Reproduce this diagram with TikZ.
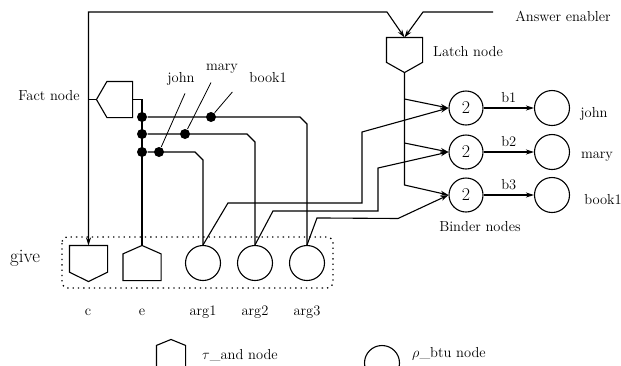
\documentclass[tikz,border=0pt]{standalone}
\usepackage{tikz}
\usetikzlibrary{arrows.meta,calc}

% house shapes drawn on an empty node: name, share of the side
\newcommand{\pentdown}[2]{\draw (#1.north west) -- (#1.north east) -- ($(#1.south east)!#2!(#1.north east)$) -- (#1.south) -- ($(#1.south west)!#2!(#1.north west)$) -- cycle;}
\newcommand{\pentup}[2]{\draw (#1.south west) -- (#1.south east) -- ($(#1.north east)!#2!(#1.south east)$) -- (#1.north) -- ($(#1.north west)!#2!(#1.south west)$) -- cycle;}
\newcommand{\pentleft}[2]{\draw (#1.north east) -- (#1.south east) -- ($(#1.south west)!#2!(#1.south east)$) -- (#1.west) -- ($(#1.north west)!#2!(#1.north east)$) -- cycle;}

\begin{document}
\begin{tikzpicture}[x=1pt,y=-1pt,line width=1.1pt,
    every node/.style={font=\fontsize{14.5}{17}\selectfont},
    arr/.style={-{Stealth[length=8pt,width=5pt]}},
    andnode/.style={inner sep=0pt,minimum width=#1},
    btunode/.style={circle,draw,inner sep=0pt,minimum size=35pt},
    bindnode/.style={circle,draw,inner sep=0pt,minimum size=34pt,font=\fontsize{18}{20}\selectfont},
    dot/.style={circle,fill=black,inner sep=0pt,minimum size=10pt}]

\useasboundingbox (0,0) rectangle (621,365);
\clip (0,0) rectangle (621,365);

% give: tau_and nodes c, e and rho_btu nodes arg1..arg3
\node[andnode=37pt,minimum height=35pt] (c) at (88.5,263.5) {};
\pentdown{c}{0.26}
\node[andnode=37pt,minimum height=34pt] (e) at (142,263) {};
\pentup{e}{0.24}
\node[btunode] (a1) at (203,263) {};
\node[btunode] (a2) at (255,263) {};
\node[btunode] (a3) at (307,263) {};
\draw[line width=1.3pt,dash pattern=on 1.3pt off 4pt,rounded corners=6pt] (62,237) rectangle (333,288);
\node[font=\fontsize{19}{22}\selectfont] (give) at (25,258) {give};

\node (lc) at (88,312) {c};
\node (le) at (142,312) {e};
\node (la1) at (203,312) {arg1};
\node (la2) at (255,312) {arg2};
\node (la3) at (307,312) {arg3};

% Fact node
\node[andnode=35pt,minimum height=35pt] (fact) at (114.5,99.5) {};
\pentleft{fact}{0.29}
\node (factlab) at (49,96) {Fact node};
\coordinate (fin) at (88,99.5);
\draw (fin) -- (fact.west);
\draw (fact.east) -| (e.north);

% Latch node
\node[andnode=35pt,minimum height=34pt] (latch) at (404.5,55) {};
\pentdown{latch}{0.29}
\node (latchlab) at (468,52) {Latch node};
\node (ans) at (563,16) {Answer enabler};
\coordinate (en) at (493,12);
\draw[{Stealth[length=8pt,width=5pt]}-{Stealth[length=8pt,width=5pt]}] (c.north) |- (387,12) -- (latch.north);
\draw[arr] (en) -- (423,12) -- (latch.north);

% Binder nodes
\node[bindnode] (b1) at (466,108) {2};
\node[bindnode] (b2) at (466,152) {2};
\node[bindnode] (b3) at (466,195) {2};
\node[btunode] (r1) at (552,108) {};
\node[btunode] (r2) at (552,152) {};
\node[btunode] (r3) at (552,195) {};
\node (rj) at (594,114) {john};
\node (rm) at (597,157) {mary};
\node (rb) at (603,200) {book1};
\draw[arr] (b1) -- node[above=1pt] {b1} (r1);
\draw[arr] (b2) -- node[above=1pt] {b2} (r2);
\draw[arr] (b3) -- node[above=1pt] {b3} (r3);
\node (bindlab) at (480,227) {Binder nodes};

\coordinate (s1) at (404.5,99);
\coordinate (s2) at (404.5,143);
\draw[arr] (latch.south) -- (404.5,185) -- (b3.west);
\draw[arr] (s1) -- (b1.west);
\draw[arr] (s2) -- (b2.west);

% arguments to binders
\draw[arr] (a1.north) -- ++(25,-42) -| (362,132) -- (b1.west);
\draw[arr] (a2.north) -- ++(18,-34) -| (378,168) -- (b2.west);
\draw[arr] (a3.north) -- ++(10,-27) -- (398,218.5) -- (b3.west);

% dots
\node[dot] (d1) at (142,117) {};
\node[dot] (d2) at (142,134) {};
\node[dot] (d3) at (142,152) {};
\node[dot] (kb) at (211,117) {};
\node[dot] (km) at (185,134) {};
\node[dot] (kj) at (159,152) {};
\draw (d1) -- (300,117) -- (307,124) -- (a3.north);
\draw (d2) -- (247,134) -- (255,142) -- (a2.north);
\draw (d3) -- (195,152) -- (203,160) -- (a1.north);

\node (lj) at (181,79) {john};
\node (lm) at (222,69) {mary};
\node (lb) at (268,78) {book1};
\draw[line width=0.8pt] (kj) -- ($(lj.south)+(4,4)$);
\draw[line width=0.8pt] (km) -- ($(lm.south)+(-11,5)$);
\draw[line width=0.8pt] (kb) -- ($(lb.south west)+(-13,5)$);

% legend
\node[andnode=28pt,minimum height=32pt] (ltau) at (171,356) {};
\pentup{ltau}{0.18}
\node (ltaulab) at (240,355) {$\tau$\_and node};
\node[btunode] (lrho) at (382,363) {};
\node (lrholab) at (449,354) {$\rho$\_btu node};

\end{tikzpicture}
\end{document}
